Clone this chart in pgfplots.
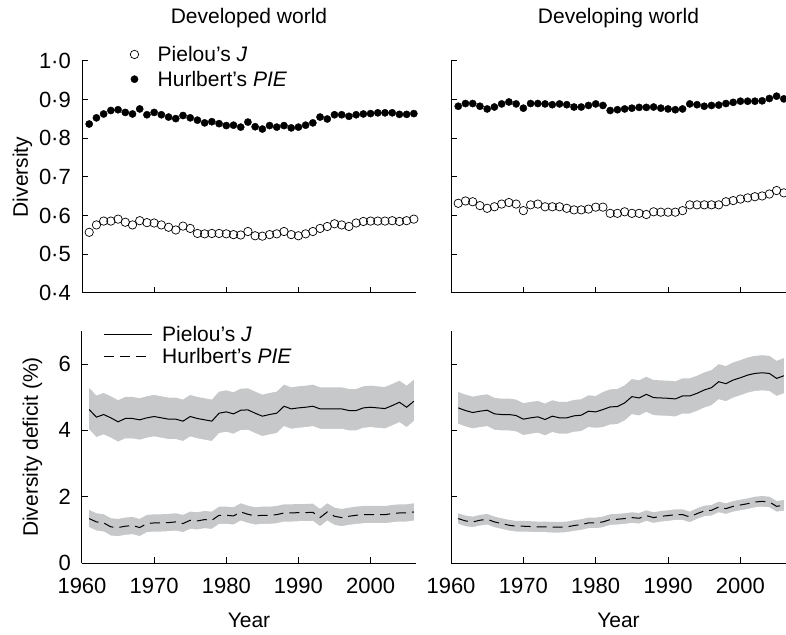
\documentclass[border=0pt]{standalone}
\usepackage{fontspec}
\setmainfont{Liberation Sans}
\usepackage{pgfplots}
\usepackage{pgfplotstable}
\pgfplotsset{compat=1.18}
\definecolor{band}{RGB}{199,200,202}

% top row: diversity per year (J = Pielou, pie = Hurlbert)
\pgfplotstableread{
yr   j     pie
1961 0.557 0.837
1962 0.576 0.853
1963 0.586 0.863
1964 0.586 0.872
1965 0.591 0.874
1966 0.583 0.867
1967 0.576 0.863
1968 0.587 0.876
1969 0.582 0.861
1970 0.581 0.867
1971 0.576 0.861
1972 0.570 0.855
1973 0.563 0.851
1974 0.573 0.859
1975 0.567 0.853
1976 0.554 0.847
1977 0.553 0.840
1978 0.554 0.843
1979 0.554 0.838
1980 0.553 0.833
1981 0.551 0.834
1982 0.550 0.829
1983 0.559 0.842
1984 0.548 0.830
1985 0.547 0.824
1986 0.551 0.833
1987 0.553 0.829
1988 0.559 0.833
1989 0.551 0.827
1990 0.548 0.829
1991 0.553 0.834
1992 0.559 0.840
1993 0.567 0.855
1994 0.572 0.850
1995 0.579 0.861
1996 0.576 0.861
1997 0.572 0.857
1998 0.581 0.861
1999 0.585 0.863
2000 0.586 0.864
2001 0.586 0.866
2002 0.586 0.866
2003 0.587 0.866
2004 0.585 0.862
2005 0.587 0.862
2006 0.591 0.864
}\devtop

\pgfplotstableread{
yr   j     pie
1961 0.632 0.883
1962 0.638 0.890
1963 0.636 0.890
1964 0.626 0.883
1965 0.619 0.876
1966 0.623 0.881
1967 0.630 0.889
1968 0.634 0.894
1969 0.630 0.889
1970 0.613 0.878
1971 0.628 0.890
1972 0.630 0.890
1973 0.623 0.889
1974 0.623 0.887
1975 0.623 0.889
1976 0.619 0.887
1977 0.615 0.881
1978 0.615 0.881
1979 0.617 0.885
1980 0.622 0.889
1981 0.622 0.885
1982 0.606 0.872
1983 0.606 0.874
1984 0.610 0.876
1985 0.606 0.878
1986 0.606 0.880
1987 0.603 0.880
1988 0.610 0.881
1989 0.609 0.878
1990 0.609 0.876
1991 0.609 0.874
1992 0.613 0.876
1993 0.628 0.889
1994 0.628 0.887
1995 0.628 0.883
1996 0.628 0.885
1997 0.628 0.886
1998 0.636 0.890
1999 0.639 0.893
2000 0.643 0.896
2001 0.646 0.896
2002 0.649 0.896
2003 0.651 0.897
2004 0.656 0.903
2005 0.665 0.909
2006 0.659 0.902
}\dvgtop

% bottom row: diversity deficit (%), mean with lower/upper band
\pgfplotstableread{
yr   j    jlo  jhi  p    plo  phi
1961 4.63 4.03 5.28 1.34 1.08 1.60
1962 4.40 3.80 5.05 1.24 0.98 1.50
1963 4.48 3.88 5.13 1.21 0.95 1.47
1964 4.38 3.78 5.03 1.09 0.83 1.35
1965 4.26 3.66 4.91 1.07 0.81 1.33
1966 4.36 3.76 5.01 1.11 0.85 1.37
1967 4.36 3.76 5.01 1.13 0.87 1.39
1968 4.32 3.72 4.97 1.07 0.81 1.33
1969 4.38 3.78 5.03 1.19 0.93 1.45
1970 4.42 3.82 5.07 1.21 0.95 1.47
1971 4.38 3.78 5.03 1.21 0.95 1.47
1972 4.34 3.74 4.99 1.22 0.96 1.48
1973 4.34 3.74 4.99 1.24 0.98 1.50
1974 4.28 3.68 4.93 1.19 0.93 1.45
1975 4.42 3.82 5.07 1.29 1.03 1.55
1976 4.36 3.76 5.01 1.27 1.01 1.53
1977 4.32 3.72 4.97 1.31 1.05 1.57
1978 4.28 3.68 4.93 1.29 1.03 1.55
1979 4.52 3.92 5.17 1.44 1.18 1.70
1980 4.56 3.96 5.21 1.44 1.18 1.70
1981 4.50 3.90 5.15 1.42 1.16 1.68
1982 4.61 4.01 5.26 1.54 1.28 1.80
1983 4.62 4.02 5.27 1.47 1.21 1.73
1984 4.52 3.92 5.17 1.42 1.16 1.68
1985 4.43 3.83 5.08 1.44 1.18 1.70
1986 4.48 3.88 5.13 1.44 1.18 1.70
1987 4.52 3.92 5.17 1.46 1.20 1.72
1988 4.73 4.13 5.38 1.51 1.25 1.77
1989 4.65 4.05 5.30 1.51 1.25 1.77
1990 4.68 4.08 5.33 1.52 1.26 1.78
1991 4.70 4.10 5.35 1.52 1.26 1.78
1992 4.73 4.13 5.38 1.53 1.27 1.79
1993 4.65 4.05 5.30 1.37 1.11 1.63
1994 4.65 4.05 5.30 1.54 1.28 1.80
1995 4.65 4.05 5.30 1.41 1.15 1.67
1996 4.65 4.05 5.30 1.37 1.11 1.63
1997 4.60 4.00 5.25 1.41 1.15 1.67
1998 4.60 4.00 5.25 1.44 1.18 1.70
1999 4.68 4.08 5.33 1.46 1.20 1.72
2000 4.70 4.10 5.35 1.46 1.20 1.72
2001 4.68 4.08 5.33 1.46 1.20 1.72
2002 4.66 4.06 5.31 1.46 1.20 1.72
2003 4.75 4.15 5.40 1.49 1.23 1.75
2004 4.85 4.25 5.50 1.51 1.25 1.77
2005 4.70 4.10 5.35 1.51 1.25 1.77
2006 4.88 4.28 5.53 1.54 1.28 1.80
}\devbot

\pgfplotstableread{
yr   j    jlo  jhi  p    plo  phi
1961 4.68 4.20 5.16 1.34 1.18 1.50
1962 4.60 4.12 5.08 1.27 1.11 1.43
1963 4.54 4.06 5.02 1.24 1.08 1.40
1964 4.58 4.10 5.06 1.29 1.13 1.45
1965 4.61 4.13 5.09 1.32 1.16 1.48
1966 4.50 4.02 4.98 1.24 1.08 1.40
1967 4.48 4.00 4.96 1.19 1.03 1.35
1968 4.48 4.00 4.96 1.14 0.98 1.30
1969 4.45 3.97 4.93 1.11 0.95 1.27
1970 4.34 3.86 4.82 1.11 0.95 1.27
1971 4.38 3.90 4.86 1.10 0.94 1.26
1972 4.41 3.93 4.89 1.09 0.93 1.25
1973 4.33 3.85 4.81 1.09 0.93 1.25
1974 4.43 3.95 4.91 1.08 0.92 1.24
1975 4.38 3.90 4.86 1.08 0.92 1.24
1976 4.38 3.90 4.86 1.09 0.93 1.25
1977 4.44 3.96 4.92 1.13 0.97 1.29
1978 4.46 3.98 4.94 1.16 1.00 1.32
1979 4.58 4.10 5.06 1.21 1.05 1.37
1980 4.56 4.08 5.04 1.21 1.05 1.37
1981 4.63 4.10 5.16 1.24 1.08 1.40
1982 4.71 4.18 5.24 1.31 1.15 1.47
1983 4.72 4.19 5.25 1.32 1.16 1.48
1984 4.83 4.30 5.36 1.34 1.18 1.50
1985 5.02 4.49 5.55 1.37 1.21 1.53
1986 4.98 4.45 5.51 1.35 1.19 1.51
1987 5.09 4.56 5.62 1.43 1.27 1.59
1988 4.99 4.46 5.52 1.37 1.21 1.53
1989 4.98 4.45 5.51 1.41 1.25 1.57
1990 4.97 4.44 5.50 1.43 1.27 1.59
1991 4.95 4.42 5.48 1.46 1.30 1.62
1992 5.04 4.51 5.57 1.46 1.30 1.62
1993 5.04 4.51 5.57 1.39 1.23 1.55
1994 5.12 4.59 5.65 1.49 1.33 1.65
1995 5.22 4.69 5.75 1.57 1.41 1.73
1996 5.29 4.76 5.82 1.59 1.43 1.75
1997 5.47 4.94 6.00 1.69 1.53 1.85
1998 5.41 4.88 5.94 1.64 1.48 1.80
1999 5.52 4.99 6.05 1.71 1.55 1.87
2000 5.59 5.06 6.12 1.75 1.59 1.91
2001 5.67 5.14 6.20 1.79 1.63 1.95
2002 5.72 5.19 6.25 1.84 1.68 2.00
2003 5.74 5.21 6.27 1.86 1.70 2.02
2004 5.72 5.19 6.25 1.84 1.68 2.00
2005 5.57 5.04 6.10 1.71 1.55 1.87
2006 5.65 5.12 6.18 1.74 1.58 1.90
}\dvgbot

\pgfplotsset{
  panel/.style={
    scale only axis, width=334pt, height=232pt,
    axis x line*=bottom, axis y line*=left, axis on top,
    axis line style={line width=1pt,-},
    tick style={line width=1pt,black}, major tick length=6pt, tick align=inside,
    xmin=1960, xmax=2006.3,
    xtick={1960,1970,...,2000},
    /pgf/number format/assume math mode=true,
    tick label style={font=\fontsize{22}{24}\selectfont, inner sep=1pt},
    xticklabel style={/pgf/number format/1000 sep={}, yshift=-14pt},
    yticklabel style={xshift=-10pt},
    title style={at={(axis description cs:0.5,1.136)}, anchor=base},
    xlabel style={at={(axis description cs:0.5,-0.278)}, anchor=base},
  },
  toprow/.style={panel, ymin=0.4, ymax=1.0, ytick={0.4,0.5,...,1.0},
    xticklabels={}},
  botrow/.style={panel, ymin=0, ymax=7, ytick={0,2,4,6}, xlabel={Year}},
  jmark/.style={only marks, mark=o, mark size=4.2pt, black, line width=0.7pt},
  pmark/.style={only marks, mark=*, mark size=3.6pt, black},
  % band: grey area down to 0, then white area from its lower edge down to 0
  bandhi/.style={fill=band, draw=none, forget plot},
  bandlo/.style={fill=white, draw=none, forget plot},
  jline/.style={black, line width=1pt,
    legend image code/.code={\draw[##1] (0pt,0pt) -- (48pt,0pt);}},
  pline/.style={black, line width=1pt, dash pattern=on 10pt off 6pt,
    legend image code/.code={\draw[##1] (0pt,0pt) -- (48pt,0pt);}},
}

\begin{document}
\begin{tikzpicture}[font=\fontsize{21}{24}\selectfont]
\useasboundingbox (0,0) rectangle (786pt,634pt);

% developed world, diversity
\begin{axis}[toprow, at={(82pt,341pt)}, anchor=south west,
  title={Developed world},
  yticklabels={0·4,0·5,0·6,0·7,0·8,0·9,1·0},
  ylabel={Diversity},
  ylabel style={at={(axis description cs:-0.162,0.5)}, anchor=base},
  legend style={draw=none, fill=none, at={(axis description cs:0.135,1.078)},
    anchor=north west, legend cell align=left, row sep=6pt,
    column sep=18pt, nodes={inner sep=1pt}}]
\addplot[jmark] table[x=yr, y=j] {\devtop};
\addlegendentry{Pielou’s \textit{J}}
\addplot[pmark] table[x=yr, y=pie] {\devtop};
\addlegendentry{Hurlbert’s \textit{PIE}}
\end{axis}

% developing world, diversity
\begin{axis}[toprow, at={(451pt,341pt)}, anchor=south west, width=335pt,
  title={Developing world}, yticklabels={}]
\addplot[jmark] table[x=yr, y=j] {\dvgtop};
\addplot[pmark] table[x=yr, y=pie] {\dvgtop};
\end{axis}

% developed world, deficit
\begin{axis}[botrow, at={(82pt,71pt)}, anchor=south west,
  ylabel={Diversity deficit (\%)},
  ylabel style={at={(axis description cs:-0.132,0.5)}, anchor=base},
  legend style={draw=none, fill=none, at={(axis description cs:0.054,1.036)},
    anchor=north west, legend cell align=left, row sep=4pt,
    column sep=9pt, nodes={inner sep=1pt}}]
\addplot[bandhi] table[x=yr, y=jhi] {\devbot} \closedcycle;
\addplot[bandlo] table[x=yr, y=jlo] {\devbot} \closedcycle;
\addplot[bandhi] table[x=yr, y=phi] {\devbot} \closedcycle;
\addplot[bandlo] table[x=yr, y=plo] {\devbot} \closedcycle;
\addplot[jline] table[x=yr, y=j] {\devbot};
\addlegendentry{Pielou’s \textit{J}}
\addplot[pline] table[x=yr, y=p] {\devbot};
\addlegendentry{Hurlbert’s \textit{PIE}}
\end{axis}

% developing world, deficit
\begin{axis}[botrow, at={(451pt,71pt)}, anchor=south west, width=335pt,
  yticklabels={}]
\addplot[bandhi] table[x=yr, y=jhi] {\dvgbot} \closedcycle;
\addplot[bandlo] table[x=yr, y=jlo] {\dvgbot} \closedcycle;
\addplot[bandhi] table[x=yr, y=phi] {\dvgbot} \closedcycle;
\addplot[bandlo] table[x=yr, y=plo] {\dvgbot} \closedcycle;
\addplot[jline] table[x=yr, y=j] {\dvgbot};
\addplot[pline] table[x=yr, y=p] {\dvgbot};
\end{axis}
\end{tikzpicture}
\end{document}
